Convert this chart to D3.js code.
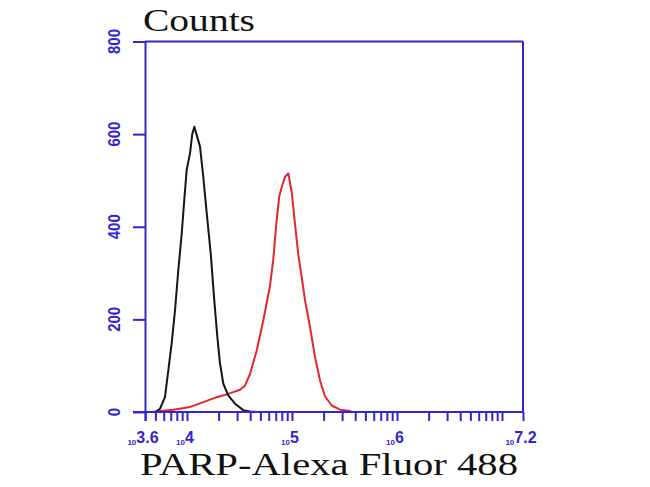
<!DOCTYPE html>
<html>
<head>
<meta charset="utf-8">
<script src="https://cdn.jsdelivr.net/npm/d3@7"></script>
<style>
  html, body { margin: 0; padding: 0; background: #ffffff; }
  svg { display: block; }
</style>
</head>
<body>
<script>
// ---- data ----
const yTicks = [0, 200, 400, 600, 800];
const xMajorExp = [3.6, 4, 5, 6, 7.2];
const xMajorLabels = ["3.6", "4", "5", "6", "7.2"];

// control (black) histogram: log10 fluorescence, counts
const controlLog = [3.62, 3.70, 3.743, 3.79, 3.822, 3.854, 3.886, 3.917, 3.95, 3.974, 3.997, 4.029, 4.05, 4.07, 4.09, 4.124, 4.155, 4.188, 4.226, 4.257, 4.289, 4.314, 4.346, 4.393, 4.457, 4.536, 4.6, 4.67];
const controlCount = [0, 0, 7, 32, 90, 148, 220, 306, 386, 458, 523, 559, 600, 616, 600, 573, 508, 429, 342, 249, 162, 105, 61, 36, 18, 4, 1, 0];

// PARP (red) histogram
const parpLog = [3.66, 3.87, 4.029, 4.092, 4.188, 4.283, 4.378, 4.44, 4.505, 4.55, 4.6, 4.664, 4.727, 4.79, 4.822, 4.85, 4.878, 4.905, 4.935, 4.965, 4.997, 5.029, 5.06, 5.092, 5.124, 5.171, 5.219, 5.267, 5.314, 5.378, 5.457, 5.552, 5.57];
const parpCount = [0, 5, 11, 16, 24, 32, 38, 43, 48, 56, 82, 133, 198, 272, 330, 405, 465, 488, 508, 515, 475, 405, 340, 292, 241, 184, 119, 68, 34, 14, 5, 2, 0];

const yTitle = "Counts";
const xTitle = "PARP-Alexa Fluor 488";

// ---- layout ----
const W = 650, H = 487;
const L = 145, R = 523, T = 41.5, B = 412;
const blue = "#3226cc";

const svg = d3.select("body").append("svg").attr("width", W).attr("height", H);

const x = d3.scaleLog().domain([Math.pow(10, 3.6), Math.pow(10, 7.2)]).range([L, R]);
const y = d3.scaleLinear().domain([0, 800]).range([B, T]);

// x minor/major tick values
const xTickVals = [Math.pow(10, 3.6)];
for (let d = 3; d <= 7; d++) {
  for (let m = 1; m <= 9; m++) {
    const v = m * Math.pow(10, d);
    if (v > Math.pow(10, 3.6) * 1.001 && v < Math.pow(10, 7.2)) xTickVals.push(v);
  }
}
xTickVals.push(Math.pow(10, 7.2));

// curves
const line = d3.line().x(d => x(Math.pow(10, d[0]))).y(d => y(d[1]));
const controlData = controlLog.map((v, i) => [v, controlCount[i]]);
const parpData = parpLog.map((v, i) => [v, parpCount[i]]);

svg.append("path").datum(parpData).attr("d", line)
  .attr("fill", "none").attr("stroke", "#e3262a").attr("stroke-width", 2).attr("stroke-linejoin", "round");
svg.append("path").datum(controlData).attr("d", line)
  .attr("fill", "none").attr("stroke", "#151515").attr("stroke-width", 2).attr("stroke-linejoin", "round");

// frame top & right
svg.append("line").attr("x1", L).attr("x2", R).attr("y1", T).attr("y2", T)
  .attr("stroke", blue).attr("stroke-width", 2);
svg.append("line").attr("x1", R).attr("x2", R).attr("y1", T).attr("y2", B)
  .attr("stroke", blue).attr("stroke-width", 2);

// y axis
const yAxis = svg.append("g").attr("transform", `translate(${L},0)`)
  .call(d3.axisLeft(y).tickValues(yTicks).tickSize(12).tickSizeOuter(0).tickFormat(""));
yAxis.select(".domain").attr("stroke", blue).attr("stroke-width", 2);
yAxis.selectAll(".tick line").attr("stroke", blue).attr("stroke-width", 2);

svg.append("g").selectAll("text").data(yTicks).join("text")
  .attr("transform", d => `translate(${L - 31},${y(d)}) rotate(-90)`)
  .attr("text-anchor", "middle")
  .attr("dy", "0.36em")
  .attr("font-family", "Liberation Sans, Arial, sans-serif")
  .attr("font-weight", "bold")
  .attr("font-size", 16)
  .attr("fill", blue)
  .attr("textLength", d => String(d).length * 8.3)
  .attr("lengthAdjust", "spacingAndGlyphs")
  .text(d => d);

// x axis
const xAxis = svg.append("g").attr("transform", `translate(0,${B})`)
  .call(d3.axisBottom(x).tickValues(xTickVals).tickSize(9).tickSizeOuter(0).tickFormat(""));
xAxis.select(".domain").attr("stroke", blue).attr("stroke-width", 2)
  .attr("d", `M${L - 12},0H${R}`);
xAxis.selectAll(".tick line").attr("stroke", blue).attr("stroke-width", 2);

const xl = svg.append("g").selectAll("text").data(xMajorExp).join("text")
  .attr("x", d => x(Math.pow(10, d)) - 2)
  .attr("y", 445)
  .attr("text-anchor", "middle")
  .attr("font-family", "Liberation Sans, Arial, sans-serif")
  .attr("font-weight", "bold")
  .attr("fill", blue);
xl.append("tspan").attr("font-size", 8).text("10");
xl.append("tspan").attr("font-size", 16).attr("dy", -2).text((d, i) => xMajorLabels[i]);

// titles
svg.append("text").attr("x", 143).attr("y", 31)
  .attr("font-family", "Liberation Serif, 'Times New Roman', serif")
  .attr("font-size", 31).attr("fill", "#111")
  .attr("textLength", 112).attr("lengthAdjust", "spacingAndGlyphs")
  .text(yTitle);

svg.append("text").attr("x", 140).attr("y", 475)
  .attr("font-family", "Liberation Serif, 'Times New Roman', serif")
  .attr("font-size", 31).attr("fill", "#111")
  .attr("textLength", 378).attr("lengthAdjust", "spacingAndGlyphs")
  .text(xTitle);
</script>
</body>
</html>
